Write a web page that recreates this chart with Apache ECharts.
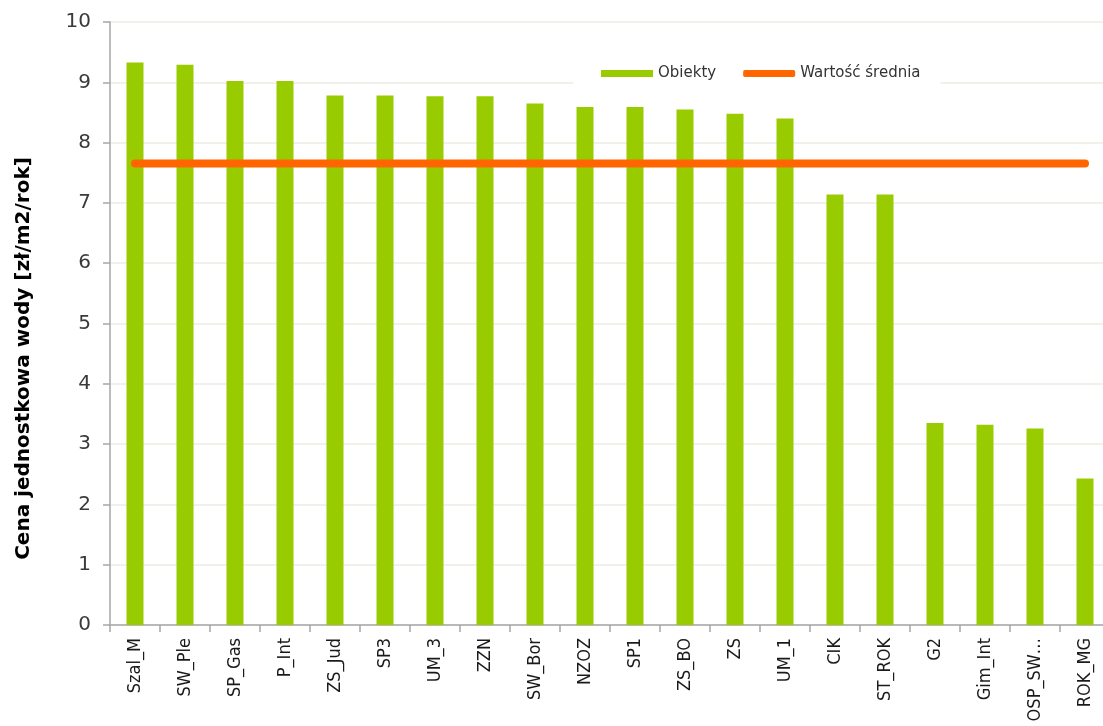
<!DOCTYPE html>
<html><head><meta charset="utf-8">
<script src="https://cdn.jsdelivr.net/npm/echarts@6/dist/echarts.min.js"></script>
<style>html,body{margin:0;padding:0;background:#fff}#c{width:1103px;height:726px}</style>
</head><body><div id="c"></div>
<script>
const categories = ['Szal_M','SW_Ple','SP_Gas','P_Int','ZS_Jud','SP3','UM_3','ZZN','SW_Bor','NZOZ','SP1','ZS_BO','ZS','UM_1','CIK','ST_ROK','G2','Gim_Int','OSP_SW…','ROK_MG'];
const obiekty = [9.33,9.29,9.02,9.02,8.78,8.78,8.77,8.77,8.65,8.59,8.59,8.55,8.48,8.40,7.14,7.14,3.35,3.32,3.26,2.43];
const srednia = [7.655,7.655,7.655,7.655,7.655,7.655,7.655,7.655,7.655,7.655,7.655,7.655,7.655,7.655,7.655,7.655,7.655,7.655,7.655,7.655];
const yTicks = [0,1,2,3,4,5,6,7,8,9,10];
const seriesNames = ['Obiekty','Wartość średnia'];
const yTitle = 'Cena jednostkowa wody [zł/m2/rok]';

const chart = echarts.init(document.getElementById('c'), null, {renderer:'canvas'});
chart.setOption({
  animation:false,
  backgroundColor:'#ffffff',
  textStyle:{fontFamily:'DejaVu Sans'},
  grid:{left:110, top:22, right:-7, bottom:101, containLabel:false, outerBoundsMode:'none'},
  legend:{
    left:573, top:56, padding:[10,20,12,28],
    backgroundColor:'#ffffff',
    itemWidth:52, itemHeight:7, itemGap:27,
    textStyle:{fontFamily:'DejaVu Sans', fontSize:15, color:'#333333'},
    data:[{name:seriesNames[0], icon:'rect', itemStyle:{color:'#99cc00'}},
          {name:seriesNames[1], icon:'roundRect', itemStyle:{color:'#ff6600'}}]
  },
  xAxis:{
    type:'category', data:categories, boundaryGap:true,
    axisLine:{lineStyle:{color:'#a6a6a6', width:1.5}},
    axisTick:{show:true, length:7, alignWithLabel:false, lineStyle:{color:'#a6a6a6', width:1.5}},
    axisLabel:{rotate:90, interval:0, margin:13, fontSize:18, color:'#1a1a1a', fontFamily:'DejaVu Sans Condensed, DejaVu Sans'}
  },
  yAxis:{
    type:'value', min:yTicks[0], max:yTicks[yTicks.length-1], interval:1,
    name:yTitle, nameLocation:'middle', nameGap:76, nameRotate:90,
    nameTextStyle:{fontFamily:'DejaVu Sans', fontWeight:'bold', fontSize:20, color:'#000', padding:[0,70,0,0]},
    axisLine:{show:true, lineStyle:{color:'#a6a6a6', width:1.5}},
    axisTick:{show:true, length:7, lineStyle:{color:'#a6a6a6', width:1.5}},
    axisLabel:{fontSize:20, color:'#3a3a3a', margin:19, fontFamily:'DejaVu Sans'},
    splitLine:{show:true, lineStyle:{color:'#ecebe3', width:1.5}}
  },
  series:[
    {name:seriesNames[0], type:'bar', data:obiekty, barWidth:17, itemStyle:{color:'#99cc00'}, z:2},
    {name:seriesNames[1], type:'line', data:srednia, symbol:'none', showSymbol:false,
     lineStyle:{color:'#ff6600', width:8, cap:'round'}, itemStyle:{color:'#ff6600'}, z:3}
  ]
});
</script></body></html>
